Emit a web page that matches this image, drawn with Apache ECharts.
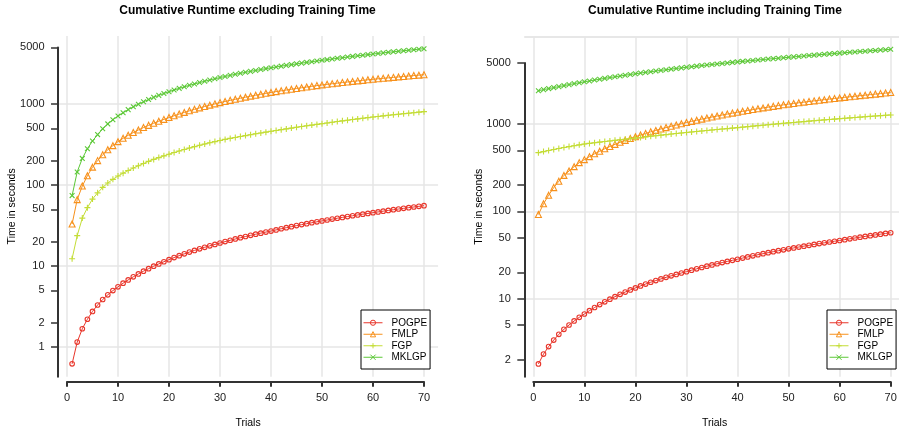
<!DOCTYPE html>
<html><head><meta charset="utf-8">
<script src="https://cdn.jsdelivr.net/npm/echarts@6/dist/echarts.min.js"></script>
<style>html,body{margin:0;padding:0;background:#fff}#c{width:899px;height:431px}</style>
</head><body><div id="c"></div>
<script>
// ---------------- data ----------------
const trials = Array.from({length: 70}, (_, i) => i + 1);
const seriesNames = ['POGPE', 'FMLP', 'FGP', 'MKLGP'];
const panelTitles = ['Cumulative Runtime excluding Training Time', 'Cumulative Runtime including Training Time'];
const xTickValues = [0, 10, 20, 30, 40, 50, 60, 70];
const yTicksLeft = [1, 2, 5, 10, 20, 50, 100, 200, 500, 1000, 5000];
const yTicksRight = [2, 5, 10, 20, 50, 100, 200, 500, 1000, 5000];

const exclPOGPE = [0.62,1.15,1.68,2.20,2.75,3.30,3.86,4.41,4.97,5.53,6.13,6.74,7.36,7.99,8.63,9.28,9.94,10.61,11.29,11.98,12.70,13.42,14.14,14.86,15.58,16.30,17.02,17.74,18.47,19.22,20.00,20.78,21.56,22.34,23.12,23.90,24.68,25.46,26.24,27.02,27.92,28.82,29.72,30.62,31.52,32.42,33.32,34.22,35.12,36.02,36.97,37.92,38.87,39.82,40.77,41.72,42.67,43.62,44.57,45.52,46.52,47.52,48.52,49.52,50.52,51.52,52.52,53.52,54.52,55.52];
const exclFMLP = [33,66,97,130,166,200,236,272,306,343,377,411,444,478,512,545,579,613,646,680,716,752,788,824,860,896,932,968,1004,1040,1075,1110,1145,1180,1215,1250,1285,1320,1355,1390,1423,1456,1489,1522,1555,1588,1621,1654,1687,1720,1750,1780,1810,1840,1870,1900,1930,1960,1990,2020,2048,2076,2104,2132,2160,2188,2216,2244,2272,2300];
const exclFGP = [12.3,23.7,39,52.5,67,80,93.5,106,117.5,129,140,151,162,173,184,196,207,218,229,240,251.5,263,274.5,286,297.5,309,320.5,332,343.5,355,365.5,376,386.5,397,407.5,418,428.5,439,449.5,460,471,482,493,504,516,527,538,549,560,571,583,595,607,619,631,643,655,667,679,691,702,714,725,736,748,759,770,781,793,804];
const exclMKLGP = [74,145,213,280,349,419,494,568,640,710,781,852,923,994,1065,1136,1207,1278,1349,1420,1490,1560,1630,1700,1770,1840,1910,1980,2050,2120,2188,2256,2324,2392,2460,2528,2596,2664,2732,2800,2866,2932,2998,3064,3130,3196,3262,3328,3394,3460,3528,3596,3664,3732,3800,3868,3936,4004,4072,4140,4208,4276,4344,4412,4480,4548,4616,4684,4752,4820];

const inclPOGPE = [1.79,2.32,2.83,3.36,3.91,4.46,5.00,5.56,6.12,6.68,7.30,7.93,8.57,9.22,9.88,10.55,11.23,11.92,12.61,13.30,14.01,14.72,15.43,16.14,16.85,17.56,18.27,18.98,19.69,20.40,21.19,21.98,22.77,23.56,24.35,25.14,25.93,26.72,27.51,28.30,29.19,30.08,30.97,31.86,32.75,33.64,34.53,35.42,36.31,37.20,38.12,39.04,39.96,40.88,41.80,42.72,43.64,44.56,45.48,46.40,47.45,48.50,49.55,50.60,51.65,52.70,53.75,54.80,55.85,56.90];
const inclFMLP = [92,122,153,187,221,258,290,325,361,391,423,456,488,521,553,585,618,650,683,715,748,780,813,845,878,910,943,975,1008,1040,1073,1105,1138,1170,1203,1235,1268,1300,1333,1365,1398,1430,1463,1495,1528,1560,1593,1625,1658,1690,1720,1750,1780,1810,1840,1870,1900,1930,1960,1990,2020,2050,2080,2110,2140,2170,2200,2230,2260,2290];
const inclFGP = [470,483,497,510,525,538,551,564,577,590,600,610,620,630,640,650,660,670,680,690,701,712,723,734,745,756,767,778,789,800,811,822,832,843,854,865,876,886,897,908,920,932,945,957,969,981,993,1006,1018,1030,1042,1054,1066,1078,1090,1102,1114,1126,1138,1150,1162,1174,1186,1198,1210,1222,1234,1246,1258,1270];
const inclMKLGP = [2404,2475,2543,2610,2679,2749,2824,2898,2970,3040,3112,3184,3256,3328,3400,3472,3544,3616,3688,3760,3830,3900,3970,4040,4110,4180,4250,4320,4390,4460,4528,4596,4664,4732,4800,4868,4936,5004,5072,5140,5206,5272,5338,5404,5470,5536,5602,5668,5734,5800,5868,5936,6004,6072,6140,6208,6276,6344,6412,6480,6548,6616,6684,6752,6820,6888,6956,7024,7092,7160];

// ---------------- styles / layout ----------------
const colors = ['#E8362B', '#F7911C', '#C4DD36', '#5CC837'];
const symbols = [
  {symbol: 'circle', size: 4.6},
  {symbol: 'triangle', size: 6},
  {symbol: 'path://M5,0L5,10M0,5L10,5', size: 6},
  {symbol: 'path://M0,0L10,10M10,0L0,10', size: 4.8}
];
const FONT = '"Liberation Sans", Arial, Helvetica, sans-serif';
const AXIS_COLOR = '#333';
const GRID_COLOR = '#e6e6e6';
const xPadMin = -1.76, xPadMax = 72.76;

const panels = [
  {title: panelTitles[0], values: [exclPOGPE, exclFMLP, exclFGP, exclMKLGP], yTicks: yTicksLeft,
   x0: 67, x70: 424, y1: 347, decade: 81, top: 36, bottom: 376.7, axisTop: 5000, showMax: false,
   legendLeft: 361, titleX: 247.5},
  {title: panelTitles[1], values: [inclPOGPE, inclFMLP, inclFGP, inclMKLGP], yTicks: yTicksRight,
   x0: 533.3, x70: 890.7, y1: 386.05, decade: 87.35, top: 36.65, bottom: 376.7, axisTop: 5000, showMax: true,
   legendLeft: 827, titleX: 715}
];

const grid = [], xAxis = [], yAxis = [], series = [], legend = [], graphic = [];
const labelFmt = v => String(Math.round(v));

panels.forEach((p, k) => {
  const ppu = (p.x70 - p.x0) / 70;
  const plotLeft = p.x0 + xPadMin * ppu;
  const plotWidth = (xPadMax - xPadMin) * ppu;
  const yMin = Math.pow(10, (p.y1 - p.bottom) / p.decade);
  const yMax = Math.pow(10, (p.y1 - p.top) / p.decade);
  const yAxisTopPx = p.y1 - Math.log10(p.axisTop) * p.decade;
  const gP = grid.length, gX = gP + 1, gY = gP + 2;

  grid.push({left: plotLeft, top: p.top, width: plotWidth, height: p.bottom - p.top, containLabel: false, outerBoundsMode: 'none'});
  grid.push({left: p.x0, top: p.top, width: p.x70 - p.x0, height: p.bottom - p.top, containLabel: false, outerBoundsMode: 'none'});
  grid.push({left: plotLeft, top: yAxisTopPx, width: plotWidth, height: p.bottom - yAxisTopPx, containLabel: false, outerBoundsMode: 'none'});

  // plot-region axes (data + horizontal grid lines + axis titles)
  xAxis.push({type: 'value', gridIndex: gP, min: xPadMin, max: xPadMax,
    axisLine: {show: false}, axisTick: {show: false}, axisLabel: {show: false}, splitLine: {show: false},
    name: 'Trials', nameLocation: 'middle', nameGap: 40.8, nameMoveOverlap: false,
    nameTextStyle: {fontSize: 10.5, color: '#000', fontFamily: FONT}});
  yAxis.push({type: 'log', logBase: 10, gridIndex: gP, min: yMin, max: yMax,
    axisLine: {show: false}, axisTick: {show: false}, axisLabel: {show: false},
    splitLine: {show: true, showMinLine: false, showMaxLine: p.showMax, lineStyle: {color: GRID_COLOR, width: 1.5}},
    name: 'Time in seconds', nameLocation: 'middle', nameGap: 40, nameRotate: 90, nameMoveOverlap: false,
    nameTextStyle: {fontSize: 10.5, color: '#000', fontFamily: FONT}});

  // x axis display (0..70) with vertical grid lines
  xAxis.push({type: 'value', gridIndex: gX, min: 0, max: 70, interval: 10, offset: 5,
    axisLine: {show: true, onZero: false, lineStyle: {color: AXIS_COLOR, width: 2}},
    axisTick: {show: true, length: 5, lineStyle: {color: AXIS_COLOR, width: 2}, customValues: xTickValues},
    axisLabel: {show: true, margin: 10.5, fontSize: 11, color: '#222', fontFamily: FONT, customValues: xTickValues, formatter: labelFmt},
    splitLine: {show: true, lineStyle: {color: GRID_COLOR, width: 1.5}}});
  yAxis.push({type: 'value', gridIndex: gX, min: 0, max: 1, show: false});

  // y axis display with labelled ticks
  xAxis.push({type: 'value', gridIndex: gY, min: 0, max: 1, show: false});
  yAxis.push({type: 'log', logBase: 10, gridIndex: gY, min: yMin, max: p.axisTop,
    axisLine: {show: true, onZero: false, lineStyle: {color: AXIS_COLOR, width: 2}},
    axisTick: {show: true, length: 7, lineStyle: {color: AXIS_COLOR, width: 1.5}, customValues: p.yTicks},
    axisLabel: {show: true, margin: 13.5, fontSize: 11, color: '#222', fontFamily: FONT, customValues: p.yTicks, formatter: labelFmt},
    splitLine: {show: false}});

  seriesNames.forEach((name, s) => {
    series.push({
      type: 'line', name: name, xAxisIndex: gP, yAxisIndex: gP,
      data: trials.map((t, i) => [t, p.values[s][i]]),
      symbol: symbols[s].symbol, symbolSize: symbols[s].size, showSymbol: true,
      color: colors[s],
      lineStyle: {color: colors[s], width: 1},
      itemStyle: {color: 'rgba(255,255,255,0)', borderColor: colors[s], borderWidth: 1.1},
      emphasis: {disabled: true}, animation: false
    });
  });

  legend.push({
    orient: 'vertical', left: p.legendLeft, top: 310,
    data: seriesNames, selectedMode: false,
    backgroundColor: '#fff', borderColor: '#000', borderWidth: 1,
    padding: [7, 3, 6, 2], itemGap: 0, itemWidth: 19, itemHeight: 6.5,
    itemStyle: {borderWidth: 1},
    lineStyle: {width: 1},
    textStyle: {fontSize: 10, color: '#000', fontFamily: FONT, lineHeight: 11.5, padding: [0, 0, 0, 4]}
  });

  graphic.push({type: 'text', x: p.titleX, y: 10.5, silent: true,
    style: {text: p.title, font: 'bold 12px ' + FONT, fill: '#000',
      align: 'center', verticalAlign: 'middle', textAlign: 'center', textVerticalAlign: 'middle'}});
});

const chart = echarts.init(document.getElementById('c'), null, {renderer: 'canvas'});
chart.setOption({
  animation: false,
  backgroundColor: '#fff',
  textStyle: {fontFamily: FONT},
  grid, xAxis, yAxis, series, legend, graphic
});
</script>
</body></html>
